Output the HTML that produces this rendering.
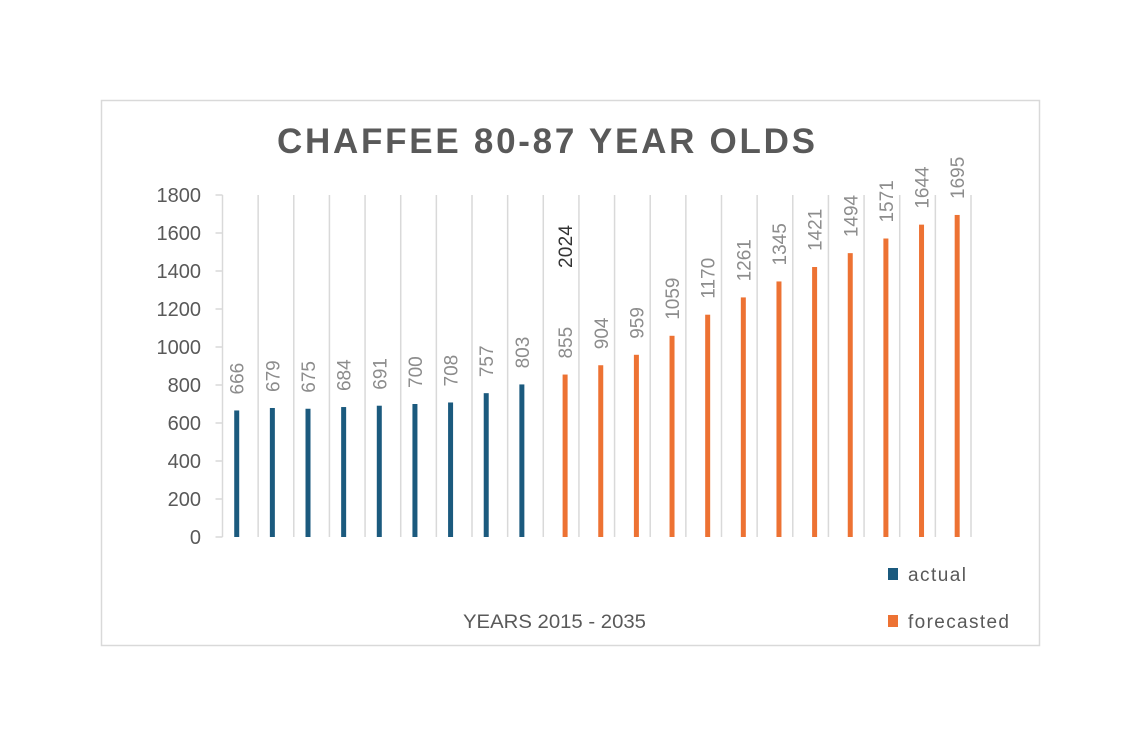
<!DOCTYPE html>
<html><head><meta charset="utf-8"><style>
html,body{margin:0;padding:0;background:#fff;}
svg{display:block;font-family:"Liberation Sans",sans-serif;}
</style></head><body>
<svg id="chart" width="1140" height="748" viewBox="0 0 1140 748">
<rect x="101.5" y="100.5" width="938" height="545" fill="#fff" stroke="#d9d9d9" stroke-width="1.5"/>
<text x="277" y="153" font-size="35" font-weight="bold" fill="#595959" textLength="538" lengthAdjust="spacing">CHAFFEE 80-87 YEAR OLDS</text>
<g id="grid"></g><g id="yaxis"></g><g id="bars"></g><g id="labels"></g>
<text transform="translate(572,268) rotate(-90)" font-size="19" fill="#333" textLength="43">2024</text>
<text x="463" y="628" font-size="19" fill="#595959" textLength="183" lengthAdjust="spacingAndGlyphs">YEARS 2015 - 2035</text>
<rect x="888" y="568" width="10" height="12" fill="#1b5a7e"/>
<text x="908" y="581" font-size="19" fill="#595959" textLength="58">actual</text>
<rect x="888" y="615" width="10" height="12" fill="#ed7233"/>
<text x="908" y="628" font-size="19" fill="#595959" textLength="101">forecasted</text>
</svg>
<script>
const actualValues=[666,679,675,684,691,700,708,757,803];
const forecastValues=[855,904,959,1059,1170,1261,1345,1421,1494,1571,1644,1695];
const yTicks=[0,200,400,600,800,1000,1200,1400,1600,1800];
const NS="http://www.w3.org/2000/svg";
const x0=222.5,x1=971,y0=537,yTop=195,yMax=1800;
const nCat=actualValues.length+forecastValues.length;
const bw=(x1-x0)/nCat;
function yS(v){return y0-(v/yMax)*(y0-yTop);}
function xC(i){return x0+bw*(i+0.5);}
function mk(tag,attrs,parent){const e=document.createElementNS(NS,tag);for(const k in attrs)e.setAttribute(k,attrs[k]);document.getElementById(parent).appendChild(e);return e;}
for(let i=0;i<=nCat;i++){
  const l=mk('line',{x1:x0+bw*i,x2:x0+bw*i,y1:yTop,y2:y0,stroke:'#d9d9d9','stroke-width':1.5},'grid');
  
  
}
yTicks.forEach(t=>{
  const tk=mk('line',{x1:x0-7,x2:x0,y1:yS(t),y2:yS(t),stroke:'#d9d9d9','stroke-width':1.5},'yaxis');
  
  
  const tx=mk('text',{x:201,y:yS(t)+7,'text-anchor':'end','font-size':20,fill:'#595959'},'yaxis');
  tx.textContent=t;
  
  
});
function drawBar(i,v,color,off,name){
  const cx=xC(i)+off;
  const r=mk('rect',{x:cx-2.5,y:yS(v),width:5,height:y0-yS(v),fill:color},'bars');
  
  
  const t=mk('text',{transform:`translate(${cx+7},${yS(v)-16}) rotate(-90)`,'font-size':19,fill:'#8c8c8c'},'labels');
  t.textContent=v;
  
  
}
actualValues.forEach((v,i)=>drawBar(i,v,'#1b5a7e',-3.6,'bar-actual'));
forecastValues.forEach((v,j)=>drawBar(actualValues.length+j,v,'#ed7233',4,'bar-forecasted'));
</script>
</body></html>
